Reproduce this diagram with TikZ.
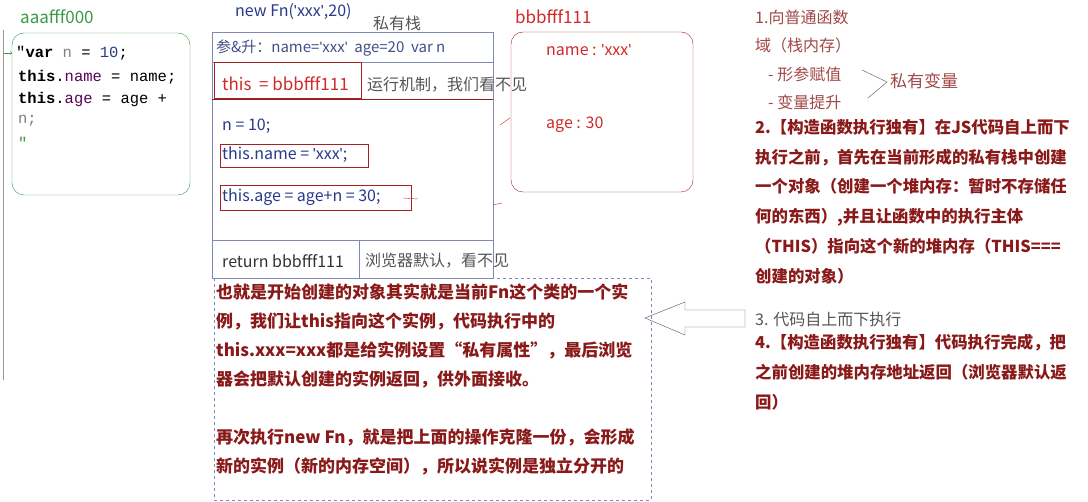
\documentclass[tikz,border=0pt]{standalone}
\usepackage{fontspec}
\setmainfont{Noto Sans CJK SC}
\newfontfamily\codefont{Liberation Mono}
\newfontfamily\latf{Liberation Sans}
\newcommand{\sq}{{\latf\char39}}
\definecolor{gr}{HTML}{3A9A4A}
\definecolor{bl}{HTML}{2A3A8A}
\definecolor{rd}{HTML}{D02A2A}
\definecolor{dr}{HTML}{8A1A1A}
\definecolor{gy}{HTML}{555555}
\definecolor{bd}{HTML}{8088B8}
\begin{document}
\begin{tikzpicture}[x=1pt,y=-1pt,
  txt/.style={anchor=west,inner sep=0pt,font=\fontsize{16}{18}\selectfont},
  code/.style={anchor=west,inner sep=0pt,font=\codefont\fontsize{15.5}{16}\selectfont},
  boxr/.style={draw=rd!80!black,line width=0.8pt},
  para/.style={anchor=north west,inner sep=0pt,align=left,font=\fontsize{17}{29}\selectfont\bfseries,text=dr}]
\useasboundingbox (0,0) rectangle (1088,502);
\fill[white] (0,0) rectangle (1088,502);
\draw[gy!60] (3,30) -- (3,380);
% left
\node[txt,text=gr,font=\fontsize{17}{18}\selectfont] (aaa) at (20,17) {aaafff000};
\draw[gr,rounded corners=12pt] (12,33) rectangle (190,195);
\node[code] (c1) at (16,53) {"\textbf{var} \textcolor{gray}{n} = \textcolor{bl}{10};};
\node[code] (c2) at (18,77) {\textbf{this}.\textcolor{violet!70!black}{name} = name;};
\node[code] (c3) at (18,99) {\textbf{this}.\textcolor{violet!70!black}{age} = age +};
\node[code,text=gray] (c4) at (18,121) {n;};
\node[code,text=gr] (c5) at (18,143) {"};
\draw[->,gr] (4,53) -- (12,53);
% stack
\node[txt,text=bl] (fn) at (235,12) {new Fn(\sq xxx\sq,20)};
\node[txt,text=gy] (ps) at (373,23) {私有栈};
\draw[bd] (212,32) rectangle (493,278);
\draw[bd] (212,62) -- (493,62);
\draw[rd!70!black] (212,99) -- (493,99);
\draw[bd] (212,240) -- (493,240);
\draw[bd] (359,240) -- (359,278);
\node[txt,text=bl!70!gray,font=\fontsize{15}{16}\selectfont] (hd) at (216,48) {参\&升：name=\sq xxx\sq\ \ age=20\ \ var n};
\draw[boxr] (214,62) rectangle (361,98);
\node[txt,text=rd,font=\fontsize{17}{18}\selectfont] (th) at (222,84) {this\ \ = bbbfff111};
\node[txt,text=gy] (yx) at (367,85) {运行机制，我们看不见};
\node[txt,text=bl] (n10) at (222,126) {n = 10;};
\draw[boxr] (220,144) rectangle (368,167);
\node[txt,text=bl] (tn) at (222,155) {this.name = \sq xxx\sq;};
\draw[boxr] (220,185) rectangle (411,210);
\node[txt,text=bl] (ta) at (222,197) {this.age = age+n = 30;};
\node[txt,text=black!80] (rt) at (222,261) {return bbbfff111};
\node[txt,text=gy] (ll) at (365,261) {浏览器默认，看不见};
% heap
\node[txt,text=rd,font=\fontsize{17}{18}\selectfont] (bbb) at (515,17) {bbbfff111};
\draw[rd!80!black,rounded corners=12pt] (511,32) rectangle (693,192);
\node[txt,text=rd] (nm) at (546,50) {name : \sq xxx\sq};
\node[txt,text=rd] (ag) at (546,125) {age : 30};
\draw[rd] (403,198) -- (418,199);
\draw[rd] (493,205) -- (502,203);
\draw[rd] (500,125) -- (510,118);
% dashed note
\draw[bl!60,dashed] (214,278) rectangle (651,500);
\node[para] (p1) at (216,283) {也就是开始创建的对象其实就是当前Fn这个类的一个实\\例，我们让this指向这个实例，代码执行中的\\this.xxx=xxx都是给实例设置“私有属性”，最后浏览\\器会把默认创建的实例返回，供外面接收。};
\node[para] (p2) at (216,428) {再次执行new Fn，就是把上面的操作克隆一份，会形成\\新的实例（新的内存空间），所以说实例是独立分开的};
% arrow
\draw[gy] (645,318) -- (685,302) -- (685,310) -- (745,310) -- (745,327) -- (685,327) -- (685,335) -- cycle;
% right
\node[txt,text=dr!80] (r1) at (755,17) {1.向普通函数};
\node[txt,text=dr!80] (r1b) at (755,45) {域（栈内存）};
\node[txt,text=dr!80] (r1c) at (768,74) {- 形参赋值};
\node[txt,text=dr!80] (r1d) at (768,102) {- 变量提升};
\draw[gy] (862,70) -- (887,82) -- (868,98);
\node[txt,text=dr!80,font=\fontsize{17}{18}\selectfont] (sy) at (890,81) {私有变量};
\node[para,font=\fontsize{16.4}{29.8}\selectfont\bfseries] (r2) at (755,119) {2.【构造函数执行独有】在JS代码自上而下\\执行之前，首先在当前形成的私有栈中创建\\一个对象（创建一个堆内存：暂时不存储任\\何的东西）,并且让函数中的执行主体\\（THIS）指向这个新的堆内存（THIS===\\创建的对象）};
\node[txt,text=gy] (r3) at (755,319) {3. 代码自上而下执行};
\node[para,font=\fontsize{16.4}{30}\selectfont\bfseries] (r4) at (755,334) {4.【构造函数执行独有】代码执行完成，把\\之前创建的堆内存地址返回（浏览器默认返\\回）};
\end{tikzpicture}
\end{document}
